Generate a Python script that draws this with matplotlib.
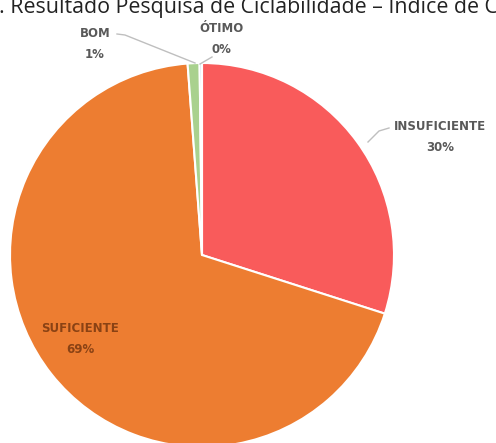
import matplotlib.pyplot as plt

# dados do gráfico (sentido horário a partir do topo)
categorias = ['INSUFICIENTE', 'SUFICIENTE', 'BOM', 'ÓTIMO']
valores = [30, 69, 1, 0.2]
rotulos_pct = ['30%', '69%', '1%', '0%']
cores = ['#F95B5B', '#ED7D31', '#A9D18E', '#9DC3E6']

W, H = 496, 443
fig = plt.figure(figsize=(W / 100, H / 100), dpi=100)
ax = fig.add_axes([0, 0, 1, 1])

cx, cy, r = 202, H - 255, 192
ax.pie(valores, colors=cores, startangle=90, counterclock=False,
       center=(cx, cy), radius=r,
       wedgeprops=dict(edgecolor='white', linewidth=1.5))
ax.set_xlim(0, W)
ax.set_ylim(0, H)
ax.set_aspect('equal')
ax.axis('off')

# título cortado no topo
fig.text(-0.002, (H - 13) / H, '. Resultado Pesquisa de Ciclabilidade – Índice de Ciclabilidade',
         fontsize=15.4, family='Open Sans', color='#222222', va='baseline', ha='left')

cinza = '#595959'
fonte = dict(fontsize=8.5, fontweight='bold', color=cinza, ha='center', va='center',
             linespacing=1.75, family='DejaVu Sans')

# rótulos com linhas guia
ax.text(440, H - 137, categorias[0] + '\n' + rotulos_pct[0], **fonte)
ax.plot([389, 379, 368], [H - 128, H - 131, H - 142], color='#BFBFBF', lw=1)

ax.text(80, H - 339, categorias[1] + '\n' + rotulos_pct[1],
        fontsize=8.5, fontweight='bold', color='#8A4214', ha='center', va='center',
        linespacing=1.75, family='DejaVu Sans')

ax.text(95, H - 44, categorias[2] + '\n' + rotulos_pct[2], **fonte)
ax.plot([117, 125, 195], [H - 34, H - 35, H - 63], color='#BFBFBF', lw=1)

ax.text(221, H - 39, categorias[3] + '\n' + rotulos_pct[3], **fonte)
ax.plot([212, 200], [H - 57, H - 64], color='#BFBFBF', lw=1)

fig.savefig('out.png', dpi=100)
